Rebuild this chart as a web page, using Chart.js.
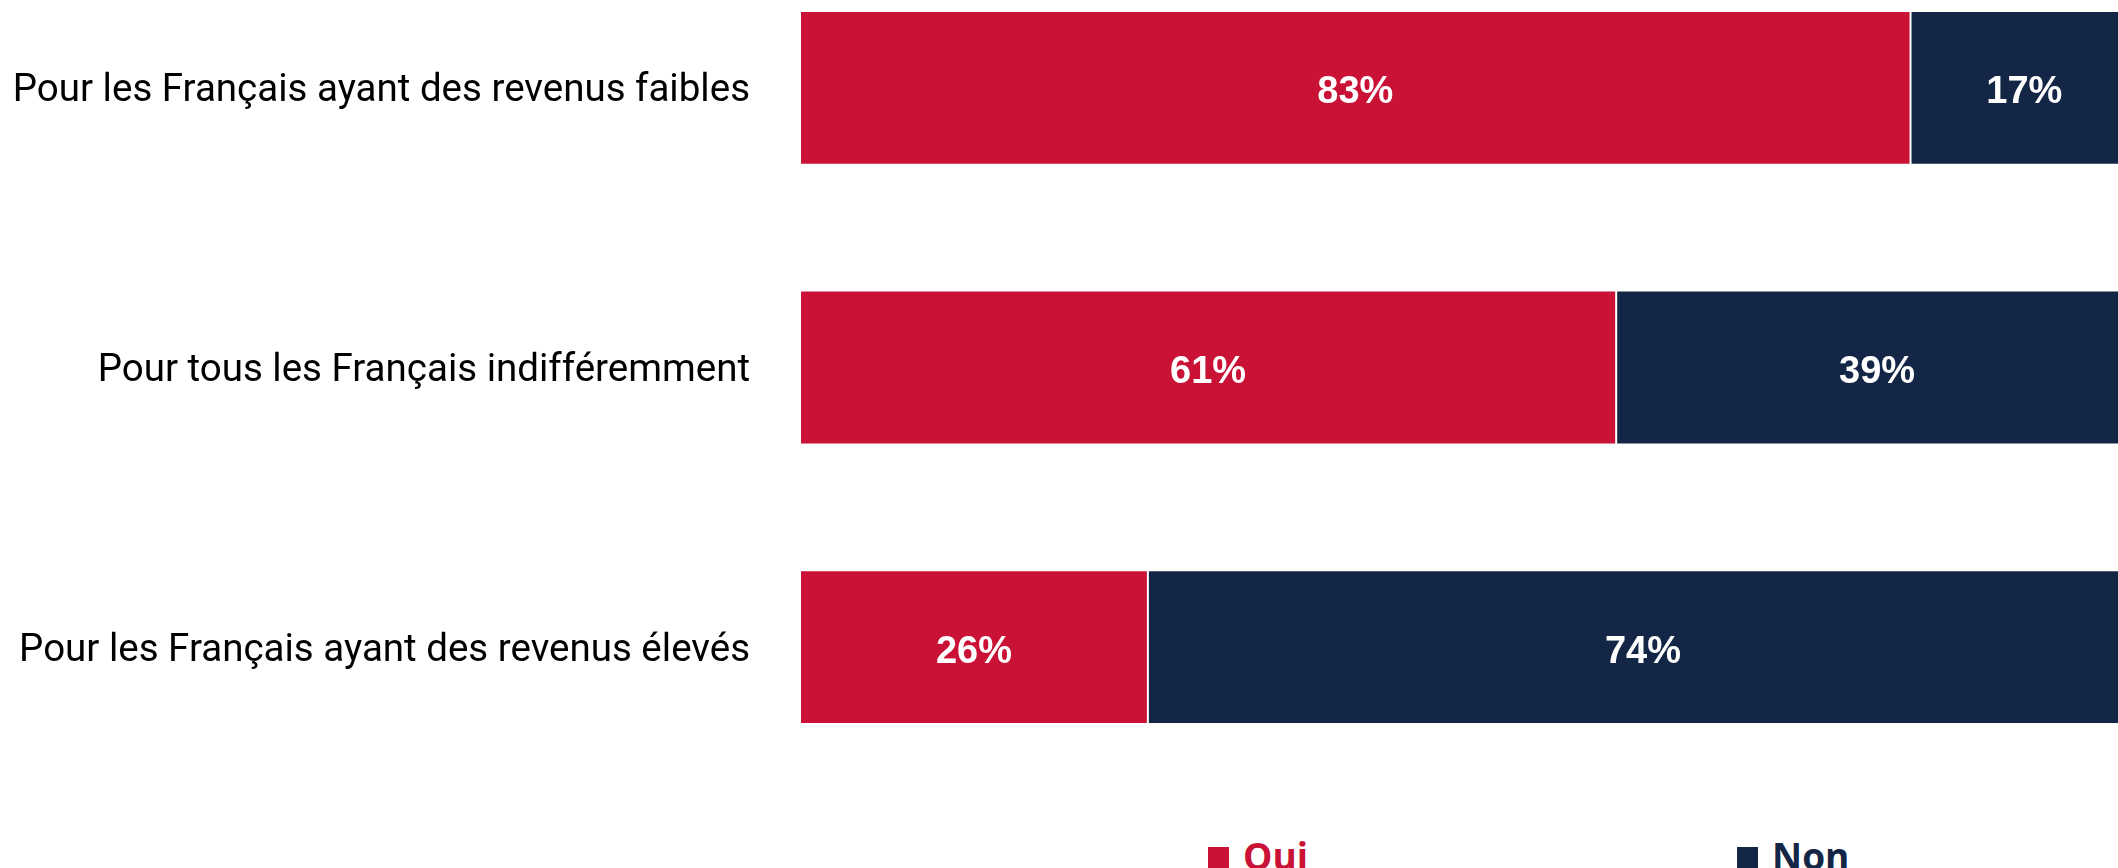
<!DOCTYPE html>
<html lang="fr">
<head>
<meta charset="utf-8">
<title>Revenus</title>
<script src="https://cdn.jsdelivr.net/npm/chart.js@4.4.1/dist/chart.umd.min.js"></script>
<style>
    html, body { margin: 0; padding: 0; background: #ffffff; overflow: hidden; }
    body { width: 2118px; height: 868px; position: relative; }
    #wrap { position: absolute; left: 0; top: -52px; width: 2138px; height: 839px; }
    #legend { position: absolute; top: 830px; left: 1208px; display: flex; align-items: center;
              font-family: 'Open Sans', sans-serif; font-weight: 700; font-size: 37px; }
    .item { display: flex; align-items: center; }
    .box { width: 21px; height: 21px; margin-right: 14px; margin-top: 4px; }
</style>
</head>
<body>
<div id="wrap"><canvas id="chart"></canvas></div>
<div id="legend"></div>

<script>
// Categories and series (percent)
const categories = [
    'Pour les Français ayant des revenus faibles',
    'Pour tous les Français indifféremment',
    'Pour les Français ayant des revenus élevés'
];
const seriesNames = ['Oui', 'Non'];
const ouiValues = [83, 61, 26];
const nonValues = [17, 39, 74];
const seriesColors = ['#C91235', '#142645'];

// Writes the value in the middle of each bar segment
const segmentLabels = {
    id: 'segmentLabels',
    afterDatasetsDraw(chart) {
        const ctx = chart.ctx;
        ctx.save();
        ctx.font = 'bold 38px "Liberation Sans", Arial, sans-serif';
        ctx.fillStyle = '#ffffff';
        ctx.textAlign = 'center';
        ctx.textBaseline = 'middle';
        chart.data.datasets.forEach((ds, i) => {
            chart.getDatasetMeta(i).data.forEach((bar, j) => {
                const cx = (bar.x + bar.base) / 2;
                ctx.fillText(ds.data[j] + '%', cx, bar.y + 5);
            });
        });
        ctx.restore();
    }
};

const chart = new Chart(document.getElementById('chart'), {
    type: 'bar',
    data: {
        labels: categories,
        datasets: [
            {
                label: seriesNames[0],
                data: ouiValues,
                backgroundColor: seriesColors[0],
                borderColor: 'rgba(255,255,255,0.85)',
                borderWidth: 1,
                borderSkipped: false,
                categoryPercentage: 1,
                barPercentage: 0.55
            },
            {
                label: seriesNames[1],
                data: nonValues,
                backgroundColor: seriesColors[1],
                borderColor: 'rgba(255,255,255,0.85)',
                borderWidth: 1,
                borderSkipped: false,
                categoryPercentage: 1,
                barPercentage: 0.55
            }
        ]
    },
    options: {
        indexAxis: 'y',
        responsive: true,
        maintainAspectRatio: false,
        animation: false,
        layout: { padding: 0 },
        plugins: {
            legend: { display: false },
            tooltip: { enabled: false }
        },
        scales: {
            x: {
                stacked: true,
                min: 0,
                max: 100,
                display: false
            },
            y: {
                stacked: true,
                border: { display: false },
                grid: { display: false, drawTicks: false },
                ticks: {
                    color: '#000000',
                    padding: 50,
                    labelOffset: 4,
                    font: { family: 'Roboto', size: 38.5 }
                },
                afterFit(scale) {
                    // fixed label column; no extra vertical padding from the tick labels
                    scale.width = 800;
                    scale.paddingTop = 0;
                    scale.paddingBottom = 0;
                }
            }
        }
    },
    plugins: [segmentLabels]
});

// Legend below the bars
const legend = document.getElementById('legend');
seriesNames.forEach((name, i) => {
    const item = document.createElement('div');
    item.className = 'item';
    if (i > 0) item.style.marginLeft = '429px';
    item.innerHTML = '<span class="box" style="background:' + seriesColors[i] + '"></span>' +
        '<span style="color:' + seriesColors[i] + '">' + name + '</span>';
    legend.appendChild(item);
});
</script>
</body>
</html>
